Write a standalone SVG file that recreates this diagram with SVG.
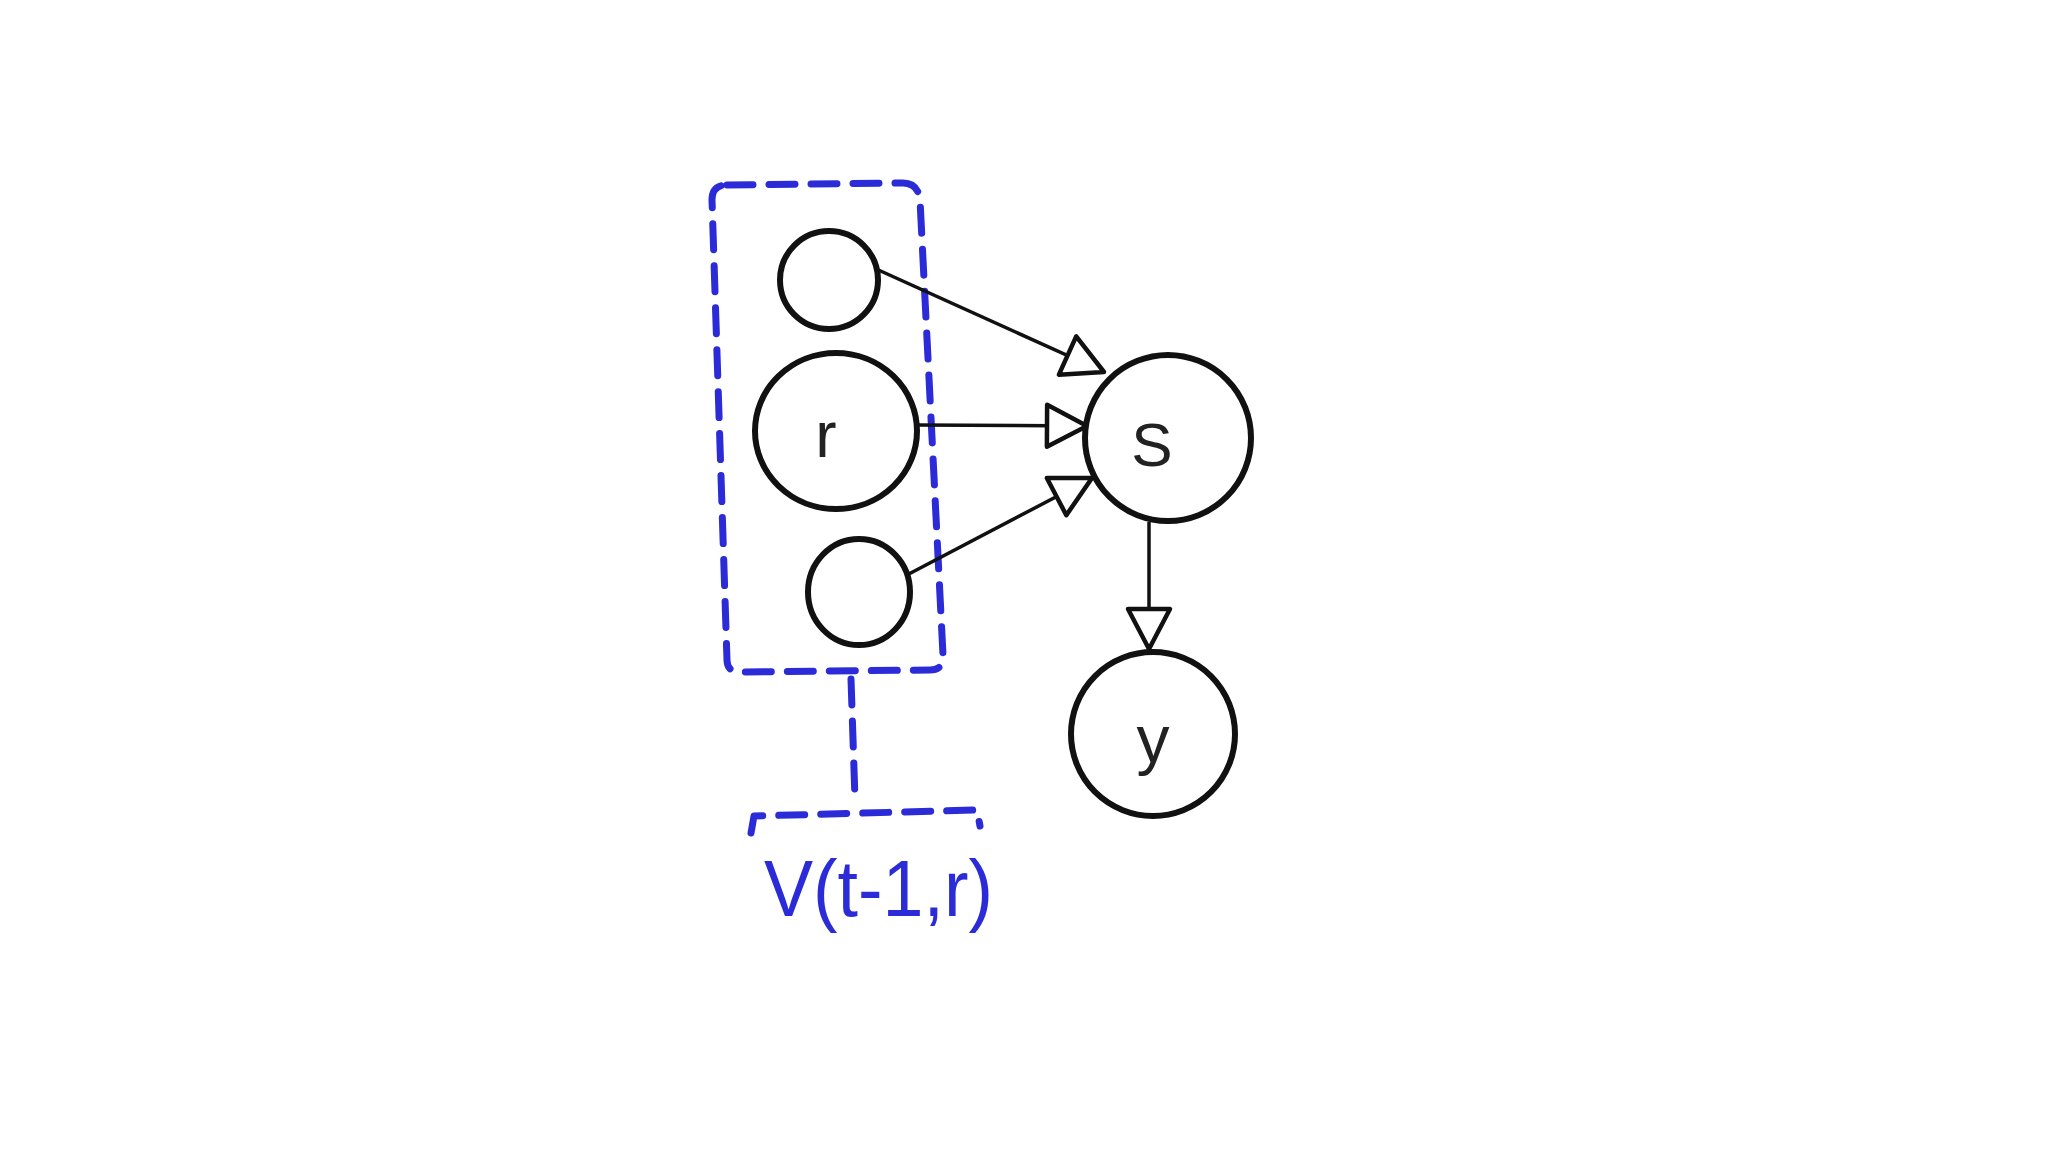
<svg xmlns="http://www.w3.org/2000/svg" width="2048" height="1152" viewBox="0 0 2048 1152">
  <style>
    .node { fill: #ffffff; stroke: #111111; stroke-width: 6; }
    .label { font-family: "Liberation Sans", Arial, sans-serif; fill: #222222; text-anchor: middle; }
    .edge { stroke: #111111; stroke-width: 3.5; fill: none; marker-end: url(#tri); }
    .group { stroke: #2b2bd8; stroke-width: 7; fill: none; stroke-dasharray: 26 16; stroke-linecap: round; stroke-linejoin: round; }
    .glabel { font-family: "Liberation Sans", Arial, sans-serif; fill: #2b2bd8; }
  </style>
  <defs>
    <marker id="tri" markerUnits="userSpaceOnUse" viewBox="-46 -26 50 52" refX="0" refY="0" markerWidth="50" markerHeight="52" orient="auto">
      <path d="M0,0 L-40,-21 L-40,21 Z" fill="#ffffff" stroke="#111111" stroke-width="4.5" stroke-linejoin="round"/>
    </marker>
  </defs>
  <rect width="2048" height="1152" fill="#ffffff"/>

  <g id="group-box">
    <path class="group" d="M727,185 L903,183 Q918,183 920,200 L943,655 Q944,670 930,670 L740,672 Q727,672 727,660 L712,200 Q712,185 727,185 Z"/>
    <path class="group" d="M851,679 L855,799"/>
    <path class="group" d="M751,833 L754,816 L977,810 L980,826"/>
    <text class="glabel" x="764" y="916" font-size="80" textLength="229" lengthAdjust="spacingAndGlyphs">V(t-1,r)</text>
  </g>

  <g id="connectors">
    <path class="edge" d="M874,268 L1104,372"/>
    <path class="edge" d="M917,425 L1087,426"/>
    <path class="edge" d="M905,576 L1092,478"/>
    <path class="edge" d="M1149,522 L1149,649"/>
  </g>

  <g id="node-top">
    <circle class="node" cx="829" cy="280" r="49"/>
  </g>
  <g id="node-r">
    <ellipse class="node" cx="836" cy="431" rx="81" ry="78"/>
    <text class="label" x="826" y="457" font-size="64">r</text>
  </g>
  <g id="node-s">
    <circle class="node" cx="1168" cy="438" r="83"/>
    <text class="label" x="1152" y="466" font-size="62">S</text>
  </g>
  <g id="node-bottom">
    <ellipse class="node" cx="859" cy="592" rx="51" ry="53"/>
  </g>
  <g id="node-y">
    <circle class="node" cx="1153" cy="734" r="82"/>
    <text class="label" x="1153" y="762" font-size="66">y</text>
  </g>
</svg>
